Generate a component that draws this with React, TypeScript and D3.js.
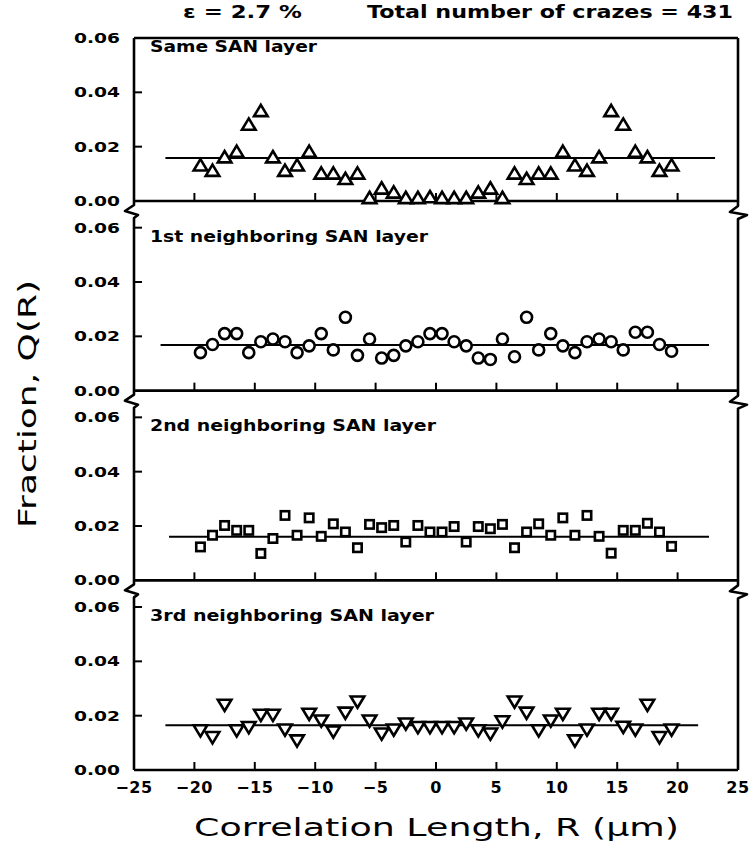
import React from "react";
import * as d3 from "d3";

// ---------- data ----------
const rValues = [
  -19.5, -18.5, -17.5, -16.5, -15.5, -14.5, -13.5, -12.5, -11.5, -10.5,
  -9.5, -8.5, -7.5, -6.5, -5.5, -4.5, -3.5, -2.5, -1.5, -0.5,
  0.5, 1.5, 2.5, 3.5, 4.5, 5.5, 6.5, 7.5, 8.5, 9.5,
  10.5, 11.5, 12.5, 13.5, 14.5, 15.5, 16.5, 17.5, 18.5, 19.5,
];

const sameLayer = [
  0.013, 0.011, 0.016, 0.018, 0.028, 0.033, 0.016, 0.011, 0.013, 0.018,
  0.010, 0.010, 0.008, 0.010, 0.001, 0.0045, 0.003, 0.001, 0.001, 0.0013,
  0.001, 0.001, 0.001, 0.003, 0.0045, 0.001, 0.010, 0.008, 0.010, 0.010,
  0.018, 0.013, 0.011, 0.016, 0.033, 0.028, 0.018, 0.016, 0.011, 0.013,
];

const firstNeighbor = [
  0.014, 0.017, 0.021, 0.021, 0.014, 0.018, 0.019, 0.018, 0.014, 0.0165,
  0.021, 0.015, 0.027, 0.013, 0.019, 0.012, 0.013, 0.0165, 0.018, 0.021,
  0.021, 0.018, 0.0165, 0.012, 0.0115, 0.019, 0.0125, 0.027, 0.015, 0.021,
  0.0165, 0.014, 0.018, 0.019, 0.018, 0.015, 0.0215, 0.0215, 0.017, 0.0145,
];

const secondNeighbor = [
  0.0123, 0.0166, 0.0202, 0.0184, 0.0184, 0.0099, 0.0154, 0.0239, 0.0166, 0.023,
  0.0162, 0.0208, 0.0178, 0.012, 0.0206, 0.0194, 0.0202, 0.0141, 0.0202, 0.0178,
  0.0178, 0.0198, 0.0141, 0.0198, 0.019, 0.0206, 0.012, 0.0178, 0.0208, 0.0166,
  0.023, 0.0166, 0.0239, 0.0162, 0.010, 0.0184, 0.0184, 0.021, 0.0178, 0.0125,
];

const thirdNeighbor = [
  0.0147, 0.0122, 0.0241, 0.0147, 0.0159, 0.0204, 0.0204, 0.015, 0.011, 0.0208,
  0.0183, 0.0143, 0.0212, 0.0253, 0.0183, 0.0135, 0.015, 0.0172, 0.0159, 0.0159,
  0.0159, 0.0159, 0.0172, 0.0147, 0.0135, 0.018, 0.0253, 0.0212, 0.0147, 0.0183,
  0.0208, 0.011, 0.015, 0.0208, 0.0208, 0.016, 0.015, 0.0241, 0.0122, 0.015,
];

const panelLabels = [
  "Same SAN layer",
  "1st neighboring SAN layer",
  "2nd neighboring SAN layer",
  "3rd neighboring SAN layer",
];
const panelSeries = [sameLayer, firstNeighbor, secondNeighbor, thirdNeighbor];
const markerTypes = ["triangleUp", "circle", "square", "triangleDown"];
const fitLevels = [0.0158, 0.0168, 0.016, 0.0165];
const fitStart = [-22.4, -22.8, -22.1, -22.4];
const fitEnd = [23.1, 22.6, 22.6, 21.7];

const xTicks = [-25, -20, -15, -10, -5, 0, 5, 10, 15, 20, 25];
const xInnerTicks = [-20, -15, -10, -5, 0, 5, 10, 15, 20];
const yTicks = [0, 0.02, 0.04, 0.06];

const titleLeft = "ε = 2.7 %";
const titleRight = "Total number of crazes = 431";
const xTitle = "Correlation Length, R (μm)";
const yTitle = "Fraction, Q(R)";

// ---------- layout ----------
const W = 750;
const H = 846;
const left = 134;
const right = 738;
const firstTop = 38;
const panelStep = 189.67;
const panelH = 163;
const panelLabelWidths = [167, 278, 286, 284];
const FONT = "'DejaVu Sans', sans-serif";

const x = d3.scaleLinear().domain([-25, 25]).range([left, right]);

function yScale(i: number) {
  const top = firstTop + i * panelStep;
  return d3.scaleLinear().domain([0, 0.06]).range([top + panelH, top]);
}

function Marker({ type, cx, cy }: { type: string; cx: number; cy: number }) {
  const sw = 2.6;
  if (type === "circle") {
    return <circle cx={cx} cy={cy} r={5.5} fill="white" stroke="black" strokeWidth={sw} />;
  }
  if (type === "square") {
    return (
      <rect x={cx - 4.2} y={cy - 4.2} width={8.4} height={8.4} fill="white" stroke="black" strokeWidth={sw} />
    );
  }
  if (type === "triangleUp") {
    const p = d3.path();
    p.moveTo(cx, cy - 6.5);
    p.lineTo(cx + 6.8, cy + 4.8);
    p.lineTo(cx - 6.8, cy + 4.8);
    p.closePath();
    return <path d={p.toString()} fill="white" stroke="black" strokeWidth={sw} strokeLinejoin="miter" />;
  }
  const p = d3.path();
  p.moveTo(cx, cy + 6.5);
  p.lineTo(cx + 6.8, cy - 4.8);
  p.lineTo(cx - 6.8, cy - 4.8);
  p.closePath();
  return <path d={p.toString()} fill="white" stroke="black" strokeWidth={sw} strokeLinejoin="miter" />;
}

export default function App() {
  const bottoms = panelSeries.map((_, i) => yScale(i)(0));

  const leftPath = d3.path();
  leftPath.moveTo(left, firstTop);
  const rightPath = d3.path();
  rightPath.moveTo(right, firstTop);
  bottoms.forEach((b, i) => {
    if (i < bottoms.length - 1) {
      leftPath.lineTo(left, b + 4);
      leftPath.lineTo(left - 9, b + 10);
      leftPath.lineTo(left + 4, b + 14);
      leftPath.lineTo(left, b + 17);
      rightPath.lineTo(right, b + 5);
      rightPath.lineTo(right - 8, b + 11);
      rightPath.lineTo(right + 9, b + 14);
      rightPath.lineTo(right, b + 18);
    } else {
      leftPath.lineTo(left, b);
      rightPath.lineTo(right, b);
    }
  });

  const line = d3
    .line<[number, number]>()
    .x((d) => d[0])
    .y((d) => d[1]);

  return (
    <svg
      width={W}
      height={H}
      style={{ position: "absolute", left: 0, top: 0, background: "white" }}
      fontFamily={FONT}
    >
      <rect x={0} y={0} width={W} height={H} fill="white" />

      <text x={183} y={18} fontSize={17} fontWeight="bold" textLength={119} lengthAdjust="spacingAndGlyphs">
        {titleLeft}
      </text>
      <text x={367} y={18} fontSize={17} fontWeight="bold" textLength={366} lengthAdjust="spacingAndGlyphs">
        {titleRight}
      </text>

      <line x1={left} x2={right} y1={firstTop} y2={firstTop} stroke="black" strokeWidth={2.6} />
      <path d={leftPath.toString()} fill="none" stroke="black" strokeWidth={2.6} strokeLinejoin="round" />
      <path d={rightPath.toString()} fill="none" stroke="black" strokeWidth={2.6} strokeLinejoin="round" />

      {panelSeries.map((series, i) => {
        const y = yScale(i);
        const b = y(0);
        const fitPts: [number, number][] = [
          [x(fitStart[i]), y(fitLevels[i])],
          [x(fitEnd[i]), y(fitLevels[i])],
        ];
        return (
          <g key={i}>
            <line x1={left} x2={right} y1={b} y2={b} stroke="black" strokeWidth={2.6} />
            {xInnerTicks.map((t) => (
              <line key={t} x1={x(t)} x2={x(t)} y1={b} y2={b - 8} stroke="black" strokeWidth={2} />
            ))}
            {yTicks
              .filter((t) => t > 0 && !(i === 0 && t === 0.06))
              .map((t) => (
                <line key={t} x1={left} x2={left + 8} y1={y(t)} y2={y(t)} stroke="black" strokeWidth={2} />
              ))}
            {yTicks.map((t) => (
              <text
                key={t}
                x={120}
                y={y(t) + 5}
                fontSize={14}
                fontWeight="bold"
                textAnchor="end"
                textLength={46}
                lengthAdjust="spacingAndGlyphs"
              >
                {t.toFixed(2)}
              </text>
            ))}
            <text
              x={150}
              y={y(0.06) + 14}
              fontSize={15}
              fontWeight="bold"
              textLength={panelLabelWidths[i]}
              lengthAdjust="spacingAndGlyphs"
            >
              {panelLabels[i]}
            </text>
            <path d={line(fitPts) || ""} fill="none" stroke="black" strokeWidth={2} />
            {series.map((v, j) => (
              <Marker key={j} type={markerTypes[i]} cx={x(rValues[j])} cy={y(v)} />
            ))}
          </g>
        );
      })}

      {xTicks.map((t) => (
        <text
          key={t}
          x={x(t)}
          y={793}
          fontSize={16}
          fontWeight="bold"
          textAnchor="middle"
          letterSpacing={0.5}
        >
          {t < 0 ? "−" + Math.abs(t) : String(t)}
        </text>
      ))}

      <text x={194} y={836} fontSize={25} textLength={485} lengthAdjust="spacingAndGlyphs">
        {xTitle}
      </text>
      <text
        transform={`translate(36,404) rotate(-90)`}
        fontSize={25}
        textAnchor="middle"
        textLength={248}
        lengthAdjust="spacingAndGlyphs"
      >
        {yTitle}
      </text>
    </svg>
  );
}
